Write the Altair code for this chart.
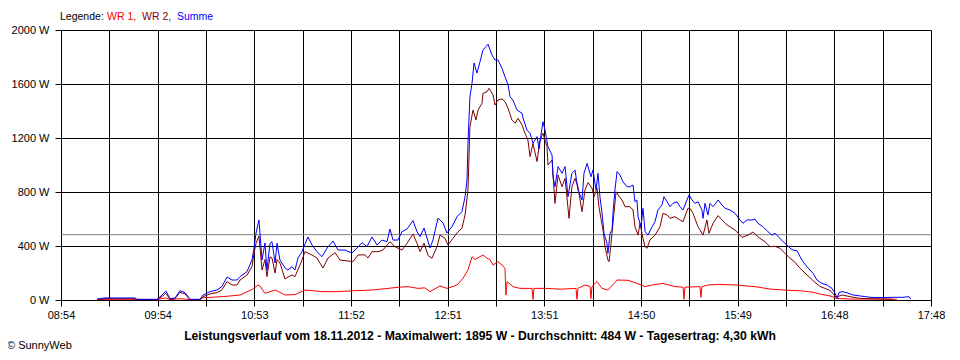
import json
import altair as alt
import pandas as pd

# ---- axis texts ----
x_labels = ["08:54", "09:54", "10:53", "11:52", "12:51", "13:51", "14:50", "15:49", "16:48", "17:48"]
y_ticks = [0, 400, 800, 1200, 1600, 2000]
span_min = 534          # minutes from 08:54 to 17:48
avg_w = 484             # Durchschnitt

legend_parts = ["Legende:", "WR 1,", "WR 2,", "Summe"]
title_text = ("Leistungsverlauf vom 18.11.2012 - Maximalwert: 1895 W - "
              "Durchschnitt: 484 W - Tagesertrag: 4,30 kWh")
copyright_text = "\u00a9 SunnyWeb"

# ---- series (minutes after 08:54, watts) ----
sum_t = [22.1, 27.0, 36.2, 45.4, 46.6, 58.9, 61.4, 64.4, 66.9, 70.0, 73.0, 76.1, 79.2, 85.3, 87.2,
         91.5, 95.8, 98.8, 101.9, 105.0, 108.0, 109.9, 114.2, 117.2, 118.5, 119.7, 121.5, 123.4,
         125.2, 126.4, 128.3, 129.5, 131.4, 132.6, 134.4, 137.5, 139.3, 141.8, 143.6, 145.5, 147.9,
         151.6, 154.1, 157.1, 160.2, 163.3, 167.0, 170.0, 174.3, 178.6, 181.7, 184.8, 187.8, 190.9,
         194.0, 197.0, 200.1, 201.9, 203.8, 206.8, 209.3, 212.4, 216.1, 218.5, 220.4, 222.8, 226.5,
         228.3, 231.4, 234.5, 236.9, 240.0, 243.1, 246.1, 248.0, 249.2, 249.8, 251.0, 252.3, 253.5,
         255.3, 257.2, 259.0, 260.9, 262.1, 264.5, 266.4, 268.2, 270.7, 272.5, 274.4, 275.6, 277.4,
         279.9, 283.0, 283.6, 286.0, 287.9, 289.7, 292.2, 293.4, 295.8, 297.1, 298.9, 301.4, 302.0,
         303.2, 305.1, 307.5, 309.4, 311.2, 313.6, 315.5, 317.3, 319.8, 321.0, 322.9, 323.5, 325.3,
         326.5, 328.4, 329.6, 330.8, 332.1, 333.3, 335.1, 335.7, 337.0, 338.2, 338.8, 340.0, 341.3,
         343.1, 344.9, 347.4, 349.2, 351.1, 352.3, 353.5, 354.2, 356.0, 357.2, 358.5, 360.3, 362.8,
         364.6, 366.4, 368.9, 370.1, 372.0, 373.8, 375.6, 378.1, 379.9, 381.8, 384.2, 385.5, 387.3,
         389.1, 391.0, 393.4, 394.1, 395.3, 397.1, 398.3, 400.2, 402.6, 403.3, 405.7, 407.6, 410.6,
         413.7, 416.8, 418.6, 421.1, 424.1, 426.0, 427.8, 430.9, 433.9, 436.4, 438.2, 441.3, 443.2,
         445.6, 447.5, 449.3, 451.8, 453.6, 455.4, 457.9, 459.7, 461.6, 464.0, 467.1, 470.2, 473.2,
         475.1, 476.3, 477.5, 479.4, 482.4, 486.1, 490.4, 496.6, 504.5, 510.7, 516.8, 520.5, 521.7]
sum_w = [7, 15, 15, 15, 5, 5, 30, 67, 10, 15, 69, 55, 5, 5, 37,
         62, 74, 100, 170, 148, 148, 173, 210, 296, 385, 496, 593, 296,
         422, 222, 420, 432, 274, 420, 296, 237, 222, 247, 222, 311, 358,
         467, 407, 358, 321, 385, 437, 370, 370, 348, 385, 425, 395, 467,
         407, 444, 432, 526, 444, 444, 506, 526, 588, 506, 470, 533, 385,
         444, 607, 570, 496, 543, 617, 654, 765, 889, 1163, 1506, 1607, 1756,
         1681, 1765, 1852, 1877, 1895, 1815, 1778, 1778, 1716, 1654, 1593, 1506, 1481,
         1407, 1383, 1348, 1259, 1235, 1160, 1210, 1120, 1321, 1259, 1136, 1074, 913,
         839, 988, 938, 988, 765, 938, 963, 815, 741, 938, 1012, 988, 913,
         963, 815, 938, 765, 642, 494, 420, 346, 494, 518, 642, 815, 951,
         926, 876, 839, 839, 852, 728, 741, 617, 543, 679, 506, 481, 543,
         580, 667, 704, 765, 728, 691, 716, 728, 691, 667, 741, 778, 741,
         716, 728, 667, 605, 716, 630, 716, 691, 728, 741, 704, 679, 667,
         642, 593, 568, 593, 593, 598, 568, 543, 506, 481, 494, 457, 432,
         407, 383, 370, 365, 321, 284, 247, 222, 198, 148, 123, 111, 86,
         49, 12, 54, 62, 54, 37, 30, 20, 18, 20, 20, 25, 7]

wr2_t = [22.1, 27.0, 45.4, 46.6, 58.9, 61.4, 64.4, 66.9, 70.0, 73.0, 76.1, 79.2, 85.3, 87.2,
         91.5, 95.8, 98.8, 101.9, 105.0, 108.0, 109.9, 114.2, 117.2, 118.5, 119.7, 121.5, 123.4,
         125.2, 126.4, 128.3, 129.5, 131.4, 132.6, 134.4, 137.5, 139.3, 141.8, 143.6, 146.7, 149.8,
         154.1, 157.1, 160.8, 163.9, 168.2, 171.2, 175.5, 179.2, 182.3, 186.6, 188.4, 190.9, 194.6,
         197.6, 201.9, 205.0, 209.3, 212.4, 216.1, 218.5, 220.4, 222.8, 225.3, 227.7, 230.8, 232.6,
         235.7, 237.5, 240.6, 243.7, 246.1, 248.0, 249.8, 251.0, 252.9, 254.7, 256.0, 258.4, 259.0,
         261.5, 262.7, 265.2, 266.4, 268.2, 270.7, 272.5, 274.4, 276.8, 278.7, 280.5, 283.0, 284.8,
         286.6, 287.9, 289.7, 292.2, 294.0, 295.8, 298.3, 298.9, 301.4, 303.2, 305.1, 307.5, 309.4,
         311.8, 313.6, 315.5, 317.3, 319.8, 321.6, 323.5, 325.9, 327.2, 329.0, 330.2, 331.4, 332.7,
         333.9, 335.7, 336.4, 337.6, 338.8, 340.7, 341.9, 344.3, 346.2, 349.2, 351.1, 352.3, 354.2,
         355.4, 357.2, 358.5, 359.7, 361.5, 364.6, 367.7, 369.5, 372.0, 373.8, 376.9, 379.9, 381.8,
         384.8, 386.1, 387.9, 391.0, 394.1, 396.5, 397.7, 400.2, 403.3, 405.7, 408.8, 413.7, 418.0,
         421.7, 424.7, 429.0, 432.1, 435.2, 438.2, 441.3, 444.4, 447.5, 450.5, 453.6, 456.7, 459.7,
         462.8, 465.9, 468.9, 472.0, 473.8, 475.7, 479.4, 484.3, 490.4, 504.5, 510.7]
wr2_w = [3, 10, 10, 3, 3, 20, 50, 5, 10, 57, 45, 3, 3, 25,
         45, 55, 75, 136, 111, 111, 148, 185, 247, 348, 420, 474, 222,
         300, 173, 320, 311, 200, 300, 274, 155, 170, 185, 173, 259, 358,
         333, 311, 237, 311, 351, 296, 290, 284, 333, 335, 311, 358, 358,
         370, 432, 395, 370, 420, 489, 420, 358, 422, 330, 309, 395, 481,
         457, 407, 457, 506, 531, 630, 815, 1284, 1407, 1333, 1407, 1457, 1531,
         1543, 1568, 1519, 1444, 1481, 1490, 1470, 1420, 1333, 1310, 1346, 1296, 1235,
         1185, 1062, 1160, 1025, 1185, 1235, 1136, 1000, 1037, 716, 926, 839, 901,
         605, 839, 901, 839, 654, 815, 870, 830, 765, 830, 691, 605, 518,
         395, 296, 284, 420, 568, 802, 778, 741, 691, 691, 667, 543, 481,
         568, 457, 395, 383, 444, 481, 543, 642, 630, 605, 617, 593, 580,
         679, 679, 642, 543, 481, 593, 494, 568, 625, 593, 556, 518, 464,
         481, 503, 457, 432, 395, 398, 383, 346, 309, 280, 235, 200, 165,
         130, 100, 86, 70, 49, 20, 37, 25, 12, 7, 5]

wr1_t = [22.1, 27.0, 45.4, 58.9, 64.4, 66.9, 73.0, 79.2, 85.3, 87.2, 99.4, 109.9, 117.8, 120.9,
         122.1, 125.2, 131.4, 137.5, 143.6, 149.8, 160.2, 170.0, 180.5, 190.9, 200.7, 206.8, 213.0,
         219.1, 223.4, 226.5, 232.6, 236.9, 243.1, 246.7, 249.8, 252.3, 254.1, 257.2, 259.0, 261.5,
         263.3, 265.2, 268.2, 270.7, 272.5, 273.1, 273.8, 277.4, 281.7, 289.1, 289.7, 290.3, 298.3,
         306.3, 316.1, 316.7, 317.3, 321.6, 324.7, 325.3, 325.9, 329.0, 332.1, 335.7, 341.3, 348.0,
         353.5, 358.5, 362.8, 369.5, 376.9, 381.8, 382.4, 383.0, 392.2, 392.8, 393.4, 397.1, 403.3,
         413.7, 426.0, 435.2, 443.2, 455.4, 461.6, 465.9, 472.0, 476.3, 484.3, 504.5, 513.1]
wr1_w = [3, 5, 5, 3, 15, 3, 10, 3, 3, 17, 25, 37, 81, 111,
         104, 49, 74, 37, 40, 74, 62, 62, 69, 74, 86, 94, 99,
         86, 90, 62, 104, 86, 111, 160, 222, 321, 300, 321, 333, 309,
         300, 259, 284, 259, 235, 37, 136, 99, 86, 86, 5, 86, 86,
         80, 86, 5, 86, 111, 100, 10, 100, 136, 86, 74, 148, 146,
         123, 99, 111, 123, 99, 95, 5, 95, 99, 20, 99, 111, 116,
         111, 99, 81, 74, 67, 57, 44, 30, 12, 7, 7, 5]

series_names = ["WR 1", "WR 2", "Summe"]
series_colors = ["#ff0000", "#800000", "#0000ff"]

rows = []
for name, ts, ws in [("WR 1", wr1_t, wr1_w), ("WR 2", wr2_t, wr2_w), ("Summe", sum_t, sum_w)]:
    for i, (t, w) in enumerate(zip(ts, ws)):
        rows.append({"series": name, "t": t, "w": w, "i": i})
df = pd.DataFrame(rows)

FONT = "Liberation Sans"
grid_vals = [i * span_min / 18 for i in range(19)]
step = span_min / 18
label_expr = ("(round(datum.value / %f) %% 2 == 0) ? %s[round(datum.value / %f)] : ''"
              % (step, json.dumps(x_labels).replace('"', "'"), 2 * step))

x_enc = alt.X("t:Q", scale=alt.Scale(domain=[0, span_min], nice=False, zero=False),
              axis=alt.Axis(values=grid_vals, labelExpr=label_expr, title=None,
                            grid=True, gridColor="black", gridOpacity=1, gridWidth=1,
                            domainColor="black", domainWidth=1, tickColor="black", tickSize=6,
                            tickWidth=1, labelFont=FONT, labelFontSize=11, labelColor="black",
                            labelPadding=3, labelFlush=False, labelOverlap=False))
y_enc = alt.Y("w:Q", scale=alt.Scale(domain=[0, 2000], nice=False),
              axis=alt.Axis(values=y_ticks, labelExpr="datum.value + ' W'", title=None,
                            grid=True, gridColor="black", gridOpacity=1, gridWidth=1,
                            domainColor="black", domainWidth=1, tickColor="black", tickSize=6,
                            tickWidth=1, labelFont=FONT, labelFontSize=11, labelColor="black",
                            labelPadding=6))

base = alt.Chart(df)
layers = []
avg_rule = alt.Chart(pd.DataFrame({"w": [avg_w]})).mark_rule(color="#808080", strokeWidth=1).encode(
    y=alt.Y("w:Q", scale=alt.Scale(domain=[0, 2000], nice=False)))
for name, col in zip(series_names, series_colors):
    layers.append(
        base.transform_filter(alt.datum.series == name)
        .mark_line(color=col, strokeWidth=1, interpolate="linear")
        .encode(x=x_enc, y=y_enc, order=alt.Order("i:Q"))
    )

one = pd.DataFrame({"a": [0]})


def label(txt, x, y, color="black", bold=False, align="left", size=11):
    return alt.Chart(one).mark_text(
        text=txt, font=FONT, fontSize=size, color=color, align=align, baseline="middle",
        fontWeight="bold" if bold else "normal"
    ).encode(x=alt.value(x), y=alt.value(y))


legend_x = [-1, 46, 81, 116]
legend_col = ["black"] + series_colors
texts = [label(t, x, -13, c, size=10.5) for t, x, c in zip(legend_parts, legend_x, legend_col)]
texts.append(label(title_text, 419, 306, bold=True, align="center", size=12.2))
texts.append(label(copyright_text, -54, 316))

chart = alt.layer(layers[0], avg_rule, layers[1], layers[2], *texts).properties(
    width=870, height=270,
    autosize=alt.AutoSizeParams(type="none"),
    padding={"left": 53, "top": 22, "right": 21, "bottom": 52},
    background="white",
).configure_view(stroke=None)

chart.save("out.html", embed_options={"renderer": "svg", "actions": False})
